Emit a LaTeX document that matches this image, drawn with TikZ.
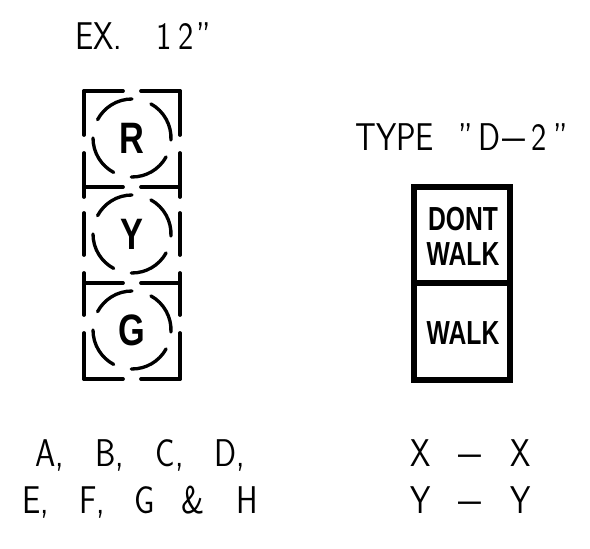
\documentclass[tikz,border=0pt]{standalone}
\usepackage{fontspec}
\setsansfont{Latin Modern Sans}
\newfontfamily\signfont{Liberation Sans}
\tikzset{
  headline/.style={line width=2.8pt,line cap=round},
  arcline/.style={line width=2.5pt,line cap=round},
  signline/.style={line width=3.8pt},
  cadtext/.style={font=\sffamily\fontsize{29}{29}\selectfont,inner sep=0pt,anchor=base west,xscale=0.84},
  lettertext/.style={font=\signfont\bfseries\fontsize{33}{33}\selectfont,inner sep=0pt,xscale=0.78},
  walktext/.style={font=\signfont\bfseries\fontsize{25}{25}\selectfont,inner sep=0pt,xscale=0.74}
}
\newcommand{\caddash}{\scalebox{1.5}[1]{--}}
\begin{document}
\begin{tikzpicture}[x=0.75pt,y=0.75pt,yscale=-1]
\useasboundingbox (0,0) rectangle (590,549);

%Straight Lines, left side
\draw [headline] (84,91) -- (84,135);
\draw [headline] (84,153) -- (84,197);
\draw [headline] (84,213) -- (84,255);
\draw [headline] (84,273) -- (84,315);
\draw [headline] (84,333) -- (84,379);
%Straight Lines, right side
\draw [headline] (180,91) -- (180,135);
\draw [headline] (180,153) -- (180,197);
\draw [headline] (180,213) -- (180,255);
\draw [headline] (180,273) -- (180,315);
\draw [headline] (180,333) -- (180,379);
%Straight Lines, across
\draw [headline] (84,91) -- (123,91);
\draw [headline] (141,91) -- (180,91);
\draw [headline] (84,187) -- (123,187);
\draw [headline] (141,187) -- (180,187);
\draw [headline] (84,283) -- (123,283);
\draw [headline] (141,283) -- (180,283);
\draw [headline] (84,379) -- (123,379);
\draw [headline] (141,379) -- (180,379);

%Curve Lines, red head
\draw [arcline] ([shift={(132,138)}]-152:39) arc[start angle=-152,end angle=-90,radius=39];
\draw [arcline] ([shift={(132,138)}]-61:39) arc[start angle=-61,end angle=3,radius=39];
\draw [arcline] ([shift={(132,138)}]29:39) arc[start angle=29,end angle=91,radius=39];
\draw [arcline] ([shift={(132,138)}]118:39) arc[start angle=118,end angle=180,radius=39];
%Curve Lines, yellow head
\draw [arcline] ([shift={(132,234)}]-152:39) arc[start angle=-152,end angle=-90,radius=39];
\draw [arcline] ([shift={(132,234)}]-61:39) arc[start angle=-61,end angle=3,radius=39];
\draw [arcline] ([shift={(132,234)}]29:39) arc[start angle=29,end angle=91,radius=39];
\draw [arcline] ([shift={(132,234)}]118:39) arc[start angle=118,end angle=180,radius=39];
%Curve Lines, green head
\draw [arcline] ([shift={(132,330)}]-152:39) arc[start angle=-152,end angle=-90,radius=39];
\draw [arcline] ([shift={(132,330)}]-61:39) arc[start angle=-61,end angle=3,radius=39];
\draw [arcline] ([shift={(132,330)}]29:39) arc[start angle=29,end angle=91,radius=39];
\draw [arcline] ([shift={(132,330)}]118:39) arc[start angle=118,end angle=180,radius=39];

%Shape: Rectangle
\draw [signline] (414,187) rectangle (510,380);
%Straight Lines
\draw [signline] (414,283) -- (510,283);

% Text Node
\node [lettertext] (redletter) at (132,138) {R};
% Text Node
\node [lettertext] (yellowletter) at (132,234) {Y};
% Text Node
\node [lettertext] (greenletter) at (132,330) {G};
% Text Node
\node [walktext] (dontword) at (463,219) {DONT};
% Text Node
\node [walktext] (walkupper) at (463,254) {WALK};
% Text Node
\node [walktext] (walklower) at (463,333) {WALK};
% Text Node
\node [cadtext] (exlabel) at (75,50) {EX.\hspace{31pt}1\hspace{6pt}2\hspace{2pt}"};
% Text Node
\node [cadtext] (typelabel) at (355,151) {TYPE\hspace{22pt}"\hspace{5pt}D\hspace{2pt}\caddash\hspace{5pt}2\hspace{6pt}"};
% Text Node
\node [cadtext] (letterupper) at (35,466) {A,\hspace{28pt}B,\hspace{28pt}C,\hspace{28pt}D,};
% Text Node
\node [cadtext] (letterlower) at (22,513) {E,\hspace{27pt}F,\hspace{26pt}G\hspace{24pt}\&\hspace{29pt}H};
% Text Node
\node [cadtext] (xlabel) at (410,466) {X\hspace{25pt}\caddash\hspace{26pt}X};
% Text Node
\node [cadtext] (ylabel) at (410,513) {Y\hspace{25pt}\caddash\hspace{26pt}Y};
\end{tikzpicture}
\end{document}
